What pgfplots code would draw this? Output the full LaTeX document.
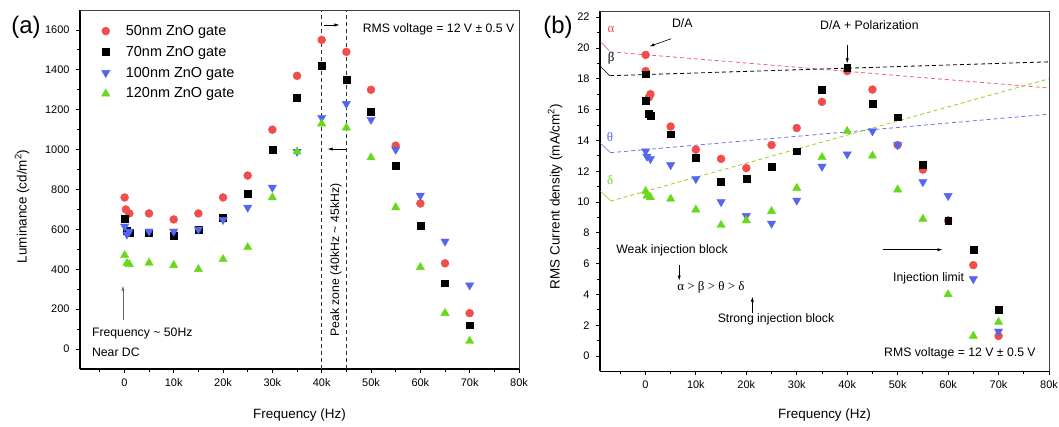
\documentclass[border=0pt]{standalone}
\usepackage{pgfplots}
\pgfplotsset{compat=1.18}
\usepackage{fontspec}
\setmainfont{Liberation Sans}
\newfontfamily\gr{Liberation Serif}
\usetikzlibrary{arrows.meta}
\definecolor{cR}{HTML}{F24D4D}
\definecolor{cB}{HTML}{5566EE}
\definecolor{cG}{HTML}{66D91A}
\definecolor{lR}{HTML}{F0607A}
\definecolor{lB}{HTML}{6677DD}
\definecolor{lG}{HTML}{99CC22}
\newcommand{\ann}{\fontsize{12.3}{14}\selectfont}
\tikzset{arr/.style={-{Latex[length=5bp,width=3.2bp]}, line width=0.6bp}}
\pgfplotsset{
  panel/.style={
    scale only axis, axis lines=left, axis line style={-, line width=1.3bp},
    tick align=outside, major tick length=4bp, minor tick length=3bp,
    tick style={black, line width=0.8bp},
    xmin=-9000, xmax=80000,
    xtick={0,10000,...,80000}, xticklabels={0,10k,20k,30k,40k,50k,60k,70k,80k},
    minor xtick={-5000,5000,...,75000},
    scaled x ticks=false, scaled y ticks=false,
    tick label style={font=\fontsize{11}{13}\selectfont},
    yticklabel style={xshift=-3bp},
    xticklabel style={yshift=-2bp},
    /pgf/number format/assume math mode=true, /pgf/number format/1000 sep={},
    label style={font=\fontsize{13.5}{16}\selectfont},
    xlabel={Frequency (Hz)},
    clip=false,
    after end axis/.code={\draw[line width=0.8bp, black!75] (rel axis cs:0,1) -- (rel axis cs:1,1) -- (rel axis cs:1,0);},
  },
  mR/.style={only marks, mark=*, mark size=4bp, color=cR},
  mK/.style={only marks, mark=square*, mark size=3.4bp, color=black},
  mB/.style={only marks, mark=triangle*, mark size=4.8bp, color=cB, mark options={rotate=180}},
  mG/.style={only marks, mark=triangle*, mark size=4.8bp, color=cG},
}
\begin{document}
\begin{tikzpicture}
\path[use as bounding box] (0,0) rectangle (1059bp,427bp);
\node[font=\fontsize{24}{26}\selectfont] at (26bp,400bp) {(a)};
\node[font=\fontsize{24}{26}\selectfont] at (558bp,400bp) {(b)};

% ---- (a) luminance
\begin{axis}[panel, at={(80bp,58bp)}, anchor=south west, width=439bp, height=359bp,
  ymin=-100, ymax=1700, ytick={0,200,...,1600}, minor y tick num=1,
  ylabel={Luminance (cd/m\textsuperscript{2})},
  ylabel style={at={(rel axis cs:-0.132,0.453)}, anchor=center},
  xlabel style={at={(rel axis cs:0.5,-0.128)}, anchor=center},
  legend style={draw=none, fill=none, at={(rel axis cs:0.042,0.969)}, anchor=north west,
    font=\fontsize{14.5}{16}\selectfont, row sep=5.3bp,
    /tikz/every odd column/.append style={column sep=14bp}},
  legend image code/.code={\draw[#1] plot coordinates {(0bp,0bp)};},
  legend cell align=left]
\addplot[mR] coordinates {(50,760)(300,700)(1000,680)(5000,680)(10000,650)(15000,680)(20000,760)(25000,870)(30000,1100)(35000,1370)(40000,1550)(45000,1490)(50000,1300)(55000,1020)(60000,730)(65000,430)(70000,180)};
\addplot[mK] coordinates {(50,655)(500,595)(1000,585)(5000,585)(10000,570)(15000,600)(20000,660)(25000,780)(30000,1000)(35000,1260)(40000,1420)(45000,1350)(50000,1190)(55000,920)(60000,620)(65000,330)(70000,120)};
\addplot[mB] coordinates {(50,615)(500,575)(1000,590)(5000,590)(10000,590)(15000,600)(20000,648)(25000,710)(30000,810)(35000,990)(40000,1160)(45000,1230)(50000,1150)(55000,1000)(60000,770)(65000,540)(70000,320)};
\addplot[mG] coordinates {(50,470)(500,430)(1000,425)(5000,432)(10000,420)(15000,400)(20000,450)(25000,510)(30000,760)(35000,990)(40000,1130)(45000,1110)(50000,960)(55000,710)(60000,410)(65000,180)(70000,40)};
\legend{50nm ZnO gate, 70nm ZnO gate, 100nm ZnO gate, 120nm ZnO gate}
\addplot[forget plot, black!80, dash pattern=on 4bp off 3bp, line width=0.8bp] coordinates {(40000,-100)(40000,1700)};
\addplot[forget plot, black!80, dash pattern=on 4bp off 3bp, line width=0.8bp] coordinates {(45000,-100)(45000,1700)};
\draw[arr] (axis cs:40500,1625) -- (axis cs:43600,1625);
\draw[arr] (axis cs:45000,1003) -- (axis cs:41200,1003);
\node[rotate=90, font=\ann] at (axis cs:42900,446) {Peak zone (40kHz \textasciitilde{} 45kHz)};
\node[anchor=west, inner sep=0, font=\ann] at (axis cs:48300,1603) {RMS voltage = 12 V ± 0.5 V};
\node[anchor=west, inner sep=0, font=\ann] at (axis cs:-6600,78) {Frequency \textasciitilde{} 50Hz};
\node[anchor=west, inner sep=0, font=\ann] at (axis cs:-6600,-14) {Near DC};
\draw[arr, black!60] (axis cs:-300,145) -- (axis cs:-300,318);
\end{axis}

% ---- (b) current density
\begin{axis}[panel, at={(600bp,55.6bp)}, anchor=south west, width=449bp, height=360.4bp,
  ymin=-1, ymax=22.4, ytick={0,2,...,22}, minor y tick num=1,
  ylabel={RMS Current density (mA/cm\textsuperscript{2})},
  ylabel style={at={(rel axis cs:-0.1,0.485)}, anchor=center},
  xlabel style={at={(rel axis cs:0.5,-0.122)}, anchor=center}]
\addplot[lR, dash pattern=on 4bp off 3bp, line width=0.8bp] coordinates {(-7000,19.75)(80000,17.4)};
\addplot[black, dash pattern=on 4bp off 3bp, line width=0.8bp] coordinates {(-7000,18.2)(80000,19.1)};
\addplot[lB, dash pattern=on 4bp off 3bp, line width=0.8bp] coordinates {(-7000,13.2)(80000,15.7)};
\addplot[lG, dash pattern=on 4bp off 3bp, line width=0.8bp] coordinates {(-7000,10.05)(80000,18.0)};
\addplot[lR, line width=0.6bp] coordinates {(-8900,20.4)(-7100,19.8)};
\addplot[black, line width=0.6bp] coordinates {(-8900,18.8)(-7100,18.2)};
\addplot[lB, line width=0.6bp] coordinates {(-8900,13.8)(-6900,13.2)};
\addplot[lG, line width=0.6bp] coordinates {(-8900,10.7)(-6900,10.1)};
\addplot[mR] coordinates {(50,19.55)(50,18.5)(700,16.8)(1000,17.0)(5000,14.9)(10000,13.4)(15000,12.8)(20000,12.2)(25000,13.7)(30000,14.8)(35000,16.5)(40000,18.5)(45000,17.3)(50000,13.7)(55000,12.1)(60000,8.8)(65000,5.9)(70000,1.3)};
\addplot[mK] coordinates {(50,18.3)(50,16.6)(700,15.75)(1000,15.6)(5000,14.4)(10000,12.9)(15000,11.3)(20000,11.5)(25000,12.3)(30000,13.3)(35000,17.3)(40000,18.7)(45000,16.4)(50000,15.5)(55000,12.4)(60000,8.8)(65000,6.9)(70000,3.0)};
\addplot[mB] coordinates {(50,13.3)(300,12.95)(1000,12.8)(5000,12.4)(10000,11.5)(15000,10.0)(20000,9.1)(25000,8.6)(30000,10.1)(35000,12.3)(40000,13.1)(45000,14.6)(50000,13.7)(55000,11.3)(60000,10.4)(65000,5.0)(70000,1.6)};
\addplot[mG] coordinates {(50,10.7)(300,10.4)(1000,10.3)(5000,10.2)(10000,9.5)(15000,8.5)(20000,8.8)(25000,9.4)(30000,10.9)(35000,12.9)(40000,14.6)(45000,13.0)(50000,10.8)(55000,8.9)(60000,4.0)(65000,1.3)(70000,2.2)};
\node[font=\gr\fontsize{13}{15}\selectfont, text=cR] at (axis cs:-6800,21.2) {α};
\node[font=\gr\fontsize{13}{15}\selectfont, text=black] at (axis cs:-6800,19.3) {β};
\node[font=\gr\fontsize{13}{15}\selectfont, text=cB] at (axis cs:-7000,14.2) {θ};
\node[font=\gr\fontsize{13}{15}\selectfont, text=cG] at (axis cs:-7000,11.4) {δ};
\node[font=\ann] at (axis cs:7300,21.6) {D/A};
\draw[arr] (axis cs:5100,20.6) -- (axis cs:800,20.1);
\node[font=\ann] at (axis cs:44400,21.5) {D/A + Polarization};
\draw[arr] (axis cs:40000,20.2) -- (axis cs:40000,19.0);
\node[anchor=west, inner sep=0, font=\ann] at (axis cs:-5800,6.84) {Weak injection block};
\draw[arr] (axis cs:6700,5.9) -- (axis cs:6700,4.9);
\node[anchor=west, inner sep=0, font=\gr\fontsize{13}{15}\selectfont] at (axis cs:6300,4.46) {α > β > θ > δ};
\draw[arr] (axis cs:21200,2.77) -- (axis cs:21200,3.85);
\node[anchor=west, inner sep=0, font=\ann] at (axis cs:14300,2.4) {Strong injection block};
\node[anchor=east, inner sep=0, font=\ann] at (axis cs:63200,5.04) {Injection limit};
\draw[arr] (axis cs:47000,6.9) -- (axis cs:58900,6.9);
\node[anchor=east, inner sep=0, font=\ann] at (axis cs:77400,0.17) {RMS voltage = 12 V ± 0.5 V};
\end{axis}
\end{tikzpicture}
\end{document}
